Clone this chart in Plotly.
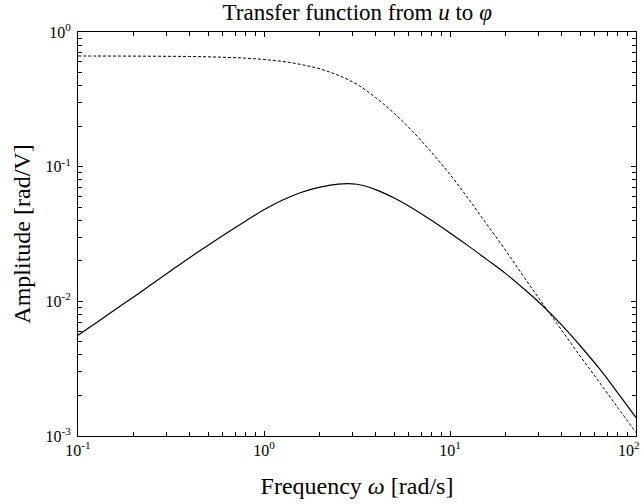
import plotly.graph_objects as go

# Frequencies [rad/s]
omega = [0.1, 0.126, 0.158, 0.2, 0.251, 0.316, 0.398, 0.501, 0.631, 0.794,
         1.0, 1.26, 1.58, 2.0, 2.51, 3.16, 3.98, 5.01, 6.31, 7.94,
         10.0, 12.6, 15.8, 20.0, 25.1, 31.6, 39.8, 50.1, 63.1, 79.4, 100.0]

# Solid curve amplitude [rad/V]
amp_solid = [0.00560, 0.00697, 0.00867, 0.0108, 0.0135, 0.0169, 0.0211, 0.0261, 0.0322, 0.0394,
             0.0479, 0.0566, 0.0643, 0.0705, 0.0743, 0.0740, 0.0676, 0.0586, 0.0490, 0.0400,
             0.0322, 0.0257, 0.0204, 0.0160, 0.0123, 0.00923, 0.00668, 0.00468, 0.00320, 0.00211, 0.00137]

# Dashed curve amplitude [rad/V]
amp_dashed = [0.664, 0.663, 0.663, 0.662, 0.661, 0.660, 0.658, 0.654, 0.648, 0.639,
              0.625, 0.604, 0.574, 0.532, 0.476, 0.409, 0.326, 0.249, 0.182, 0.128,
              0.0875, 0.0575, 0.0372, 0.0237, 0.0150, 0.00955, 0.00612, 0.00392, 0.00254, 0.00164, 0.00106]

x_tickvals = [0.1, 1, 10, 100]
x_ticktext = ["10<sup>-1</sup>", "10<sup>0</sup>", "10<sup>1</sup>", ""]
x_last_label = "10<sup>2</sup>"
y_tickvals = [0.001, 0.01, 0.1, 1]
y_ticktext = ["10<sup>-3</sup>", "10<sup>-2</sup>", "10<sup>-1</sup>", "10<sup>0</sup>"]

x_minor = [m * 10 ** e for e in (-1, 0, 1) for m in range(2, 10)]
y_minor = [m * 10 ** e for e in (-3, -2, -1) for m in range(2, 10)]

FONT = "Liberation Serif, Times New Roman, serif"

fig = go.Figure()
fig.add_trace(go.Scatter(x=omega, y=amp_dashed, mode="lines",
                         line=dict(color="black", width=1, dash="3px,2px", shape="spline"),
                         showlegend=False))
fig.add_trace(go.Scatter(x=omega, y=amp_solid, mode="lines",
                         line=dict(color="black", width=1.2, shape="spline"),
                         showlegend=False))

axis_common = dict(
    showline=True, linecolor="black", linewidth=1, mirror="ticks",
    ticks="inside", ticklen=5, tickwidth=1, tickcolor="black",
    showgrid=False, zeroline=False, automargin=False,
    tickfont=dict(family=FONT, size=16, color="black"),
)

fig.update_xaxes(type="log", range=[-1, 2], tickmode="array",
                 tickvals=x_tickvals, ticktext=x_ticktext,
                 minor=dict(tickvals=x_minor, ticks="inside", ticklen=4, tickcolor="black", showgrid=False),
                 title=dict(text="Frequency <i>ω</i> [rad/s]", font=dict(family=FONT, size=24, color="black"), standoff=18),
                 **axis_common)
fig.update_yaxes(type="log", range=[-3, 0], tickmode="array",
                 tickvals=y_tickvals, ticktext=y_ticktext,
                 minor=dict(tickvals=y_minor, ticks="inside", ticklen=4, tickcolor="black", showgrid=False),
                 title=dict(text="Amplitude [rad/V]", font=dict(family=FONT, size=24, color="black"), standoff=8),
                 ticklabelstandoff=3,
                 **axis_common)

# last x tick label, kept inside the page at the right edge
fig.add_annotation(text=x_last_label, xref="paper", x=1, xanchor="right", xshift=6,
                   yref="paper", y=0, yanchor="top", yshift=-1, showarrow=False,
                   font=dict(family=FONT, size=16, color="black"))

fig.update_layout(
    width=642, height=504,
    margin=dict(l=78, r=6, t=32, b=68),
    paper_bgcolor="white", plot_bgcolor="white",
    title=dict(text="Transfer function from <i>u</i> to <i>φ</i>",
               font=dict(family=FONT, size=23, color="black"),
               x=0.5564, xanchor="center", y=0.976, yanchor="middle"),
)

fig.write_html("out.html")
